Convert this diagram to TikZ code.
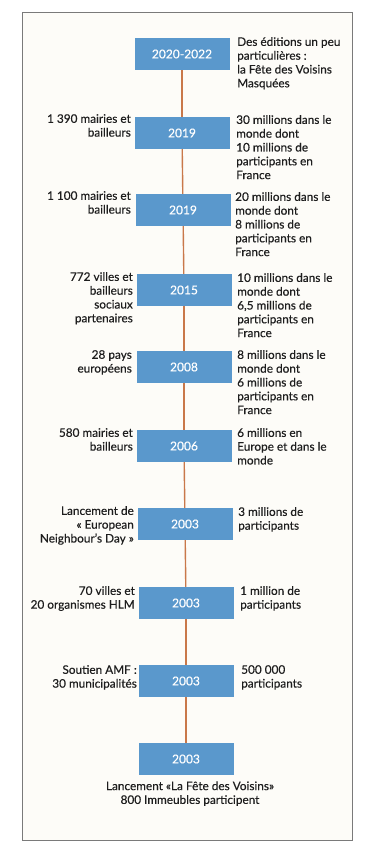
\documentclass[tikz,border=0pt]{standalone}
\usepackage{fontspec}
\setmainfont{Lato}[FakeBold=0.35]
\usetikzlibrary{calc}
\definecolor{boxblue}{HTML}{5A98CC}
\definecolor{lineorange}{HTML}{C9784A}
\definecolor{framegray}{HTML}{7A7A7A}
\definecolor{paper}{HTML}{FDFCF8}
\definecolor{txt}{HTML}{1E1E1E}

\begin{document}
\begin{tikzpicture}[x=1pt, y=-1pt,
    yearbox/.style={fill=boxblue, minimum width=95pt, minimum height=32pt, inner sep=0pt, text=white, font=\fontsize{12}{14}\selectfont},
    lefttxt/.style={anchor=north east, align=right, inner sep=0pt, text=txt, font=\fontsize{11.8}{13.8}\selectfont},
    righttxt/.style={anchor=north west, align=left, inner sep=0pt, text=txt, font=\fontsize{11.8}{13.8}\selectfont},
    tl/.style={lineorange, line width=1.4pt}]

    \useasboundingbox (0,0) rectangle (368,857);
    \draw [framegray, fill=paper, line width=0.8pt] (22,12) rectangle (352,840);

    % years
    \node [yearbox] (y1) at (182, 54) {2020-2022};
    \node [yearbox] (y2) at (182, 133) {2019};
    \node [yearbox] (y3) at (183, 210) {2019};
    \node [yearbox] (y4) at (184, 290) {2015};
    \node [yearbox] (y5) at (184, 367) {2008};
    \node [yearbox] (y6) at (184, 446) {2006};
    \node [yearbox] (y7) at (185, 524) {2003};
    \node [yearbox] (y8) at (186, 603) {2003};
    \node [yearbox] (y9) at (186, 681) {2003};
    \node [yearbox] (y10) at (186, 759) {2003};

    \foreach \a/\b in {y1/y2, y2/y3, y3/y4, y4/y5, y5/y6, y6/y7, y7/y8, y8/y9, y9/y10}
        \draw [tl] (\a) -- (\b);

    % right side
    \node [righttxt] (r1) at (237, 37) {Des éditions un peu\\particulières :\\la Fête des Voisins\\Masquées};
    \node [righttxt] (r2) at (236, 115) {30 millions dans le\\monde dont\\10 millions de\\participants en\\France};
    \node [righttxt] (r3) at (235, 192) {20 millions dans le\\monde dont\\8 millions de\\participants en\\France};
    \node [righttxt] (r4) at (237, 273) {10 millions dans le\\monde dont\\6,5 millions de\\participants en\\France};
    \node [righttxt] (r5) at (237, 350) {8 millions dans le\\monde dont\\6 millions de\\participants en\\France};
    \node [righttxt] (r6) at (237, 428) {6 millions en\\Europe et dans le\\monde};
    \node [righttxt] (r7) at (238, 507) {3 millions de\\participants};
    \node [righttxt] (r8) at (240, 586) {1 million de\\participants};
    \node [righttxt] (r9) at (241, 665) {500 000\\participants};

    % left side
    \node [lefttxt] (l2) at (131, 114) {1 390 mairies et\\bailleurs};
    \node [lefttxt] (l3) at (131, 191) {1 100 mairies et\\bailleurs};
    \node [lefttxt] (l4) at (133, 272) {772 villes et\\bailleurs\\sociaux\\partenaires};
    \node [lefttxt] (l5) at (132, 350) {28 pays\\européens};
    \node [lefttxt] (l6) at (133, 428) {580 mairies et\\bailleurs};
    \node [lefttxt] (l7) at (134, 506) {Lancement de\\« European\\Neighbour’s Day »};
    \node [lefttxt] (l8) at (135, 586) {70 villes et\\20 organismes HLM};
    \node [lefttxt] (l9) at (137, 665) {Soutien AMF :\\30 municipalités};

    % bottom
    \node [anchor=north, align=center, inner sep=0pt, text=txt, font=\fontsize{11.8}{13.8}\selectfont] (b10) at ($(y10.south)+(4,6)$) {Lancement «La Fête des Voisins»\\800 Immeubles participent};

\end{tikzpicture}
\end{document}
